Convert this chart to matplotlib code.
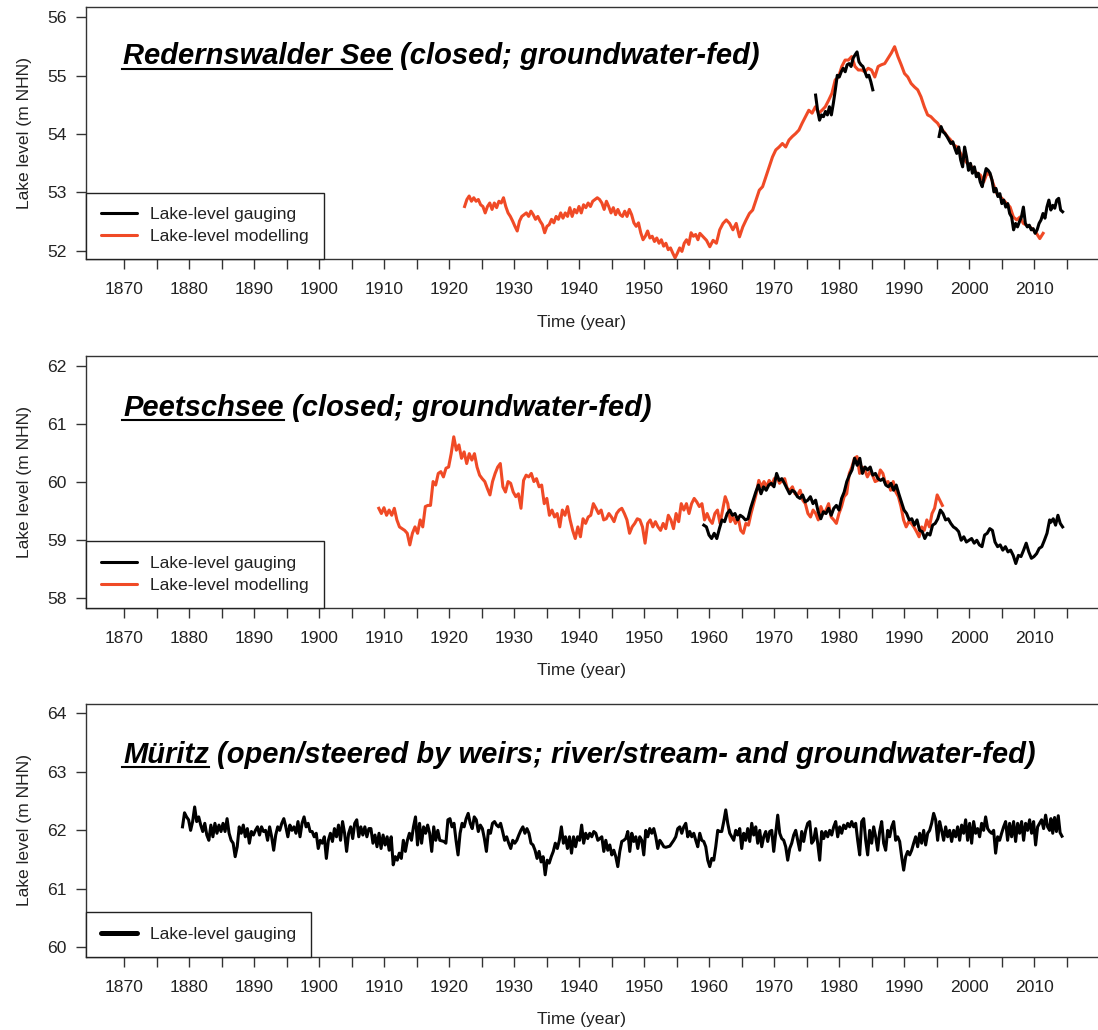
import numpy as np
import matplotlib
matplotlib.use('Agg')
import matplotlib.pyplot as plt
from matplotlib.lines import Line2D

plt.rcParams['font.family'] = ['Liberation Sans', 'DejaVu Sans']

RED = '#f04a26'
INK = '#222222'
SPINE = '#333333'

# ---------------- Redernswalder See ----------------
# modelled lake level, 1922.4 - 1958.3
rds_model_a = [52.76, 52.88, 52.94, 52.85, 52.91, 52.85, 52.88, 52.79, 52.76, 52.65,
               52.76, 52.82, 52.71, 52.82, 52.74, 52.85, 52.82, 52.91, 52.76, 52.65,
               52.59, 52.51, 52.42, 52.34, 52.51, 52.59, 52.62, 52.65, 52.59, 52.68,
               52.62, 52.54, 52.59, 52.51, 52.45, 52.31, 52.42, 52.45, 52.54, 52.48,
               52.59, 52.54, 52.65, 52.56, 52.65, 52.59, 52.74, 52.59, 52.71, 52.65,
               52.76, 52.65, 52.79, 52.74, 52.82, 52.76, 52.85, 52.88, 52.91, 52.88,
               52.82, 52.71, 52.85, 52.76, 52.65, 52.74, 52.62, 52.71, 52.62, 52.59,
               52.68, 52.59, 52.71, 52.62, 52.48, 52.42, 52.48, 52.31, 52.19, 52.25,
               52.34, 52.22, 52.25, 52.16, 52.22, 52.13, 52.19, 52.08, 52.13, 52.02,
               52.05, 51.96, 51.88, 51.96, 52.05, 51.99, 52.13, 52.19, 52.11, 52.31,
               52.25, 52.28, 52.19]
# modelled lake level, 1958.6 - 2011.4
rds_model_b = [52.30, 52.24, 52.18, 52.07, 52.18, 52.13, 52.36, 52.47, 52.53, 52.47,
               52.36, 52.47, 52.24, 52.41, 52.53, 52.64, 52.70, 52.87, 53.04, 53.10,
               53.27, 53.44, 53.61, 53.73, 53.78, 53.84, 53.78, 53.90, 53.96, 54.01,
               54.07, 54.19, 54.30, 54.41, 54.36, 54.47, 54.36, 54.41, 54.47, 54.58,
               54.70, 54.93, 54.98, 55.16, 55.27, 55.27, 55.33, 55.16, 55.10, 55.10,
               55.07, 55.13, 55.10, 54.98, 55.16, 55.19, 55.21, 55.30, 55.39, 55.50,
               55.33, 55.19, 55.04, 54.98, 54.87, 54.81, 54.76, 54.64, 54.47, 54.33,
               54.30, 54.24, 54.19, 54.10, 54.04, 53.96, 53.90, 53.81, 53.78, 53.67,
               53.58, 53.50, 53.47, 53.38, 53.33, 53.30, 53.18, 53.33, 53.30, 53.13,
               52.98, 52.93, 52.87, 52.81, 52.75, 52.58, 52.53, 52.58, 52.47, 52.44,
               52.41, 52.36, 52.30, 52.21, 52.30]
# gauged lake level, 1976.4 - 1985.2
rds_gauge_a = [54.67, 54.41, 54.24, 54.33, 54.30, 54.39, 54.33, 54.47, 54.33, 54.53,
               54.76, 55.01, 54.98, 55.07, 55.13, 55.07, 55.19, 55.21, 55.16, 55.30,
               55.36, 55.41, 55.24, 55.19, 55.16, 55.07, 54.98, 55.01, 54.90, 54.76]
# gauged lake level, 1995.4 - 2014.4
rds_gauge_b = [53.96, 54.13, 54.04, 54.01, 53.96, 53.90, 53.84, 53.87, 53.76, 53.67,
               53.78, 53.56, 53.44, 53.78, 53.61, 53.38, 53.50, 53.33, 53.44, 53.27,
               53.33, 53.18, 53.10, 53.27, 53.41, 53.38, 53.33, 53.21, 53.01, 53.07,
               52.93, 52.98, 52.81, 52.87, 52.75, 52.81, 52.64, 52.58, 52.36, 52.47,
               52.41, 52.50, 52.58, 52.75, 52.47, 52.41, 52.44, 52.36, 52.38, 52.30,
               52.36, 52.47, 52.53, 52.64, 52.56, 52.75, 52.87, 52.70, 52.78, 52.73,
               52.87, 52.90, 52.70, 52.67]

# ---------------- Peetschsee ----------------
# modelled, 1909.2 - 1995.9
pee_model = [59.55, 59.46, 59.56, 59.43, 59.52, 59.43, 59.55, 59.35, 59.23, 59.20,
             59.17, 59.12, 58.92, 59.12, 59.23, 59.12, 59.35, 59.23, 59.58, 59.60,
             59.60, 60.01, 59.95, 60.15, 60.18, 60.09, 60.24, 60.26, 60.49, 60.78,
             60.55, 60.64, 60.41, 60.52, 60.32, 60.49, 60.38, 60.49, 60.26, 60.12,
             60.06, 60.01, 59.89, 59.78, 60.01, 60.15, 60.26, 60.32, 59.92, 59.83,
             60.01, 59.98, 59.83, 59.75, 59.80, 59.55, 60.03, 60.12, 60.09, 60.15,
             60.01, 60.06, 59.92, 59.95, 59.63, 59.72, 59.43, 59.52, 59.40, 59.46,
             59.23, 59.52, 59.43, 59.58, 59.35, 59.17, 59.03, 59.23, 59.06, 59.37,
             59.29, 59.40, 59.43, 59.63, 59.55, 59.46, 59.52, 59.35, 59.37, 59.46,
             59.40, 59.32, 59.46, 59.52, 59.55, 59.46, 59.35, 59.12, 59.23, 59.29,
             59.37, 59.35, 59.23, 58.95, 59.29, 59.35, 59.23, 59.32, 59.23, 59.17,
             59.29, 59.20, 59.43, 59.35, 59.20, 59.46, 59.32, 59.63, 59.52, 59.63,
             59.46, 59.63, 59.72, 59.66, 59.58, 59.63, 59.35, 59.46, 59.35, 59.29,
             59.46, 59.52, 59.29, 59.52, 59.75, 59.63, 59.32, 59.40, 59.29, 59.40,
             59.17, 59.12, 59.29, 59.26, 59.46, 59.63, 59.80, 60.03, 59.92, 60.01,
             59.92, 60.03, 59.95, 60.06, 60.09, 59.98, 60.03, 60.06, 59.89, 59.86,
             59.92, 59.80, 59.78, 59.86, 59.69, 59.63, 59.46, 59.40, 59.52, 59.46,
             59.35, 59.58, 59.46, 59.52, 59.63, 59.40, 59.35, 59.29, 59.46, 59.58,
             59.75, 59.80, 60.15, 60.26, 60.41, 60.44, 60.15, 60.26, 60.21, 60.09,
             60.18, 60.12, 60.01, 60.03, 60.21, 60.15, 59.98, 60.01, 59.86, 60.01,
             59.83, 59.75, 59.58, 59.35, 59.23, 59.32, 59.29, 59.23, 59.15, 59.06,
             59.23, 59.17, 59.35, 59.23, 59.46, 59.55, 59.78, 59.69, 59.60]
# gauged, 1959.2 - 2012.4
pee_gauge = [59.26, 59.23, 59.09, 59.03, 59.12, 59.03, 59.20, 59.35, 59.32, 59.46,
             59.52, 59.43, 59.46, 59.35, 59.43, 59.40, 59.35, 59.37, 59.55, 59.69,
             59.83, 59.95, 59.80, 59.92, 59.86, 59.95, 59.98, 59.92, 60.15, 60.03,
             60.06, 59.98, 59.89, 59.80, 59.86, 59.83, 59.75, 59.72, 59.78, 59.66,
             59.69, 59.75, 59.63, 59.69, 59.49, 59.37, 59.49, 59.46, 59.55, 59.43,
             59.55, 59.60, 59.52, 59.72, 59.83, 60.01, 60.12, 60.21, 60.41, 60.29,
             60.41, 60.15, 60.26, 60.21, 60.26, 60.12, 60.15, 60.06, 60.03, 60.06,
             59.95, 59.92, 59.98, 59.86, 59.95, 59.80, 59.66, 59.52, 59.46, 59.35,
             59.37, 59.26, 59.35, 59.17, 59.15, 59.03, 59.12, 59.09, 59.26, 59.29,
             59.37, 59.52, 59.46, 59.35, 59.37, 59.29, 59.23, 59.20, 59.15, 59.00,
             59.06, 58.97, 59.00, 59.03, 58.95, 59.00, 58.92, 58.89, 59.09, 59.12,
             59.20, 59.17, 58.97, 58.89, 58.92, 58.83, 58.89, 58.80, 58.83, 58.74,
             58.60, 58.74, 58.72, 58.83, 58.95, 58.80, 58.69, 58.72, 58.77, 58.86,
             58.89, 59.00, 59.12, 59.35]
# gauged, 2012.6 - 2014.4
pee_gauge_end = [59.31, 59.37, 59.26, 59.43, 59.29, 59.23]

# ---------------- Müritz ----------------
# gauged, 1879.0 - 1942.9
mur_gauge_a = [62.06, 62.30, 62.23, 62.18, 62.00, 62.15, 62.40, 62.15, 62.23, 62.09, 61.98,
               62.12, 61.92, 61.83, 62.09, 61.89, 62.12, 61.95, 62.09, 61.98, 62.12,
               61.98, 62.20, 61.95, 61.83, 61.78, 61.55, 61.72, 62.06, 61.95, 62.09,
               61.89, 62.03, 61.78, 61.98, 61.92, 62.00, 62.06, 61.92, 62.06, 61.98,
               62.00, 61.83, 62.06, 61.89, 61.66, 61.92, 62.06, 62.00, 62.12, 62.20,
               62.06, 61.89, 62.09, 62.00, 62.06, 61.95, 62.15, 61.89, 62.12, 62.23,
               62.06, 62.12, 61.98, 61.98, 61.89, 61.95, 61.69, 61.83, 61.78, 61.89,
               61.52, 61.83, 61.95, 61.81, 62.03, 61.89, 62.09, 61.83, 62.15, 61.95,
               61.64, 61.95, 62.06, 61.86, 62.12, 62.18, 61.89, 62.06, 61.92, 62.06,
               61.89, 62.03, 62.03, 61.78, 61.92, 61.72, 61.95, 61.69, 61.92, 61.75,
               61.89, 61.66, 61.89, 61.41, 61.55, 61.49, 61.61, 61.52, 61.83, 61.64,
               61.83, 61.95, 61.83, 62.06, 62.23, 61.75, 62.12, 61.78, 62.06, 61.95,
               62.09, 61.95, 61.64, 62.06, 61.83, 62.00, 61.83, 61.82, 61.81, 61.78,
               62.18, 62.20, 62.06, 62.12, 61.83, 61.58, 61.95, 62.12, 62.06, 62.20,
               62.29, 62.12, 62.03, 62.23, 62.18, 61.98, 62.09, 62.03, 61.86, 61.64,
               62.00, 61.95, 62.12, 62.15, 62.09, 62.06, 62.12, 61.98, 61.83, 61.89,
               61.78, 61.69, 61.83, 61.78, 61.83, 61.92, 62.00, 62.06, 61.95, 62.03,
               61.95, 61.78, 61.75, 61.66, 61.52, 61.64, 61.46, 61.55, 61.24, 61.49,
               61.44, 61.55, 61.64, 61.78, 61.69, 61.83, 62.06, 61.78, 61.89, 61.69,
               61.89, 61.61, 61.89, 61.72, 61.89, 61.83, 62.09, 61.78, 61.95, 61.86,
               61.95, 61.89, 61.98, 61.95, 61.83]
# gauged, 1943.2 - 2012.4
mur_gauge_b = [61.86, 61.89, 61.64, 61.83, 61.66, 61.75, 61.58, 61.66, 61.55, 61.38,
               61.64, 61.81, 61.83, 61.86, 61.98, 61.64, 61.95, 61.81, 61.89, 61.69,
               61.89, 61.83, 61.58, 62.00, 61.89, 62.03, 61.95, 62.03, 61.89, 61.69,
               61.83, 61.78, 61.72, 61.71, 61.72, 61.73, 61.78, 61.83, 61.89, 62.03,
               62.06, 61.95, 62.06, 62.12, 61.89, 61.98, 61.89, 61.95, 61.83, 61.72,
               61.95, 61.83, 61.81, 61.72, 61.49, 61.38, 61.52, 61.49, 61.72, 62.00,
               61.98, 61.98, 62.15, 62.35, 62.12, 61.95, 61.89, 61.83, 62.00, 61.92,
               62.03, 61.69, 61.95, 61.83, 62.03, 61.81, 62.12, 61.92, 62.06, 61.78,
               62.00, 61.72, 61.89, 61.98, 61.81, 61.98, 62.00, 61.64, 61.95, 62.26,
               61.95, 61.86, 61.83, 61.72, 61.49, 61.69, 61.78, 61.92, 62.00, 61.83,
               61.66, 61.98, 61.81, 62.00, 62.12, 62.15, 61.78, 61.83, 62.03, 61.78,
               61.49, 61.98, 61.86, 61.98, 61.89, 62.00, 61.92, 62.06, 62.15, 61.89,
               62.06, 61.95, 62.09, 62.03, 62.12, 62.06, 62.15, 62.06, 62.12, 61.83,
               61.58, 62.15, 62.20, 61.83, 61.58, 62.00, 61.78, 62.06, 61.89, 61.66,
               61.98, 62.15, 61.78, 61.66, 62.00, 61.89, 62.06, 62.15, 61.83, 61.89,
               61.81, 61.55, 61.32, 61.55, 61.64, 61.58, 61.66, 61.78, 61.89, 61.72,
               61.95, 61.78, 62.00, 61.75, 61.95, 62.00, 62.12, 62.29, 62.18, 61.83,
               62.15, 62.00, 61.83, 62.06, 61.89, 62.00, 61.81, 62.00, 61.89, 62.06,
               61.83, 62.09, 61.95, 62.18, 61.83, 62.12, 61.78, 62.15, 61.95, 62.03,
               61.89, 62.12, 62.00, 62.23, 62.03, 61.98, 61.95, 62.00, 61.61, 61.89,
               61.83, 61.95, 62.06, 62.15, 61.83, 62.12, 61.89, 62.15, 61.81, 62.12,
               61.95, 62.15, 61.83, 62.12, 62.00, 62.18, 61.95, 62.15, 61.75, 62.06,
               62.12, 62.18, 62.03, 62.26, 62.06, 62.00]
# gauged, 2012.6 - 2014.3
mur_gauge_end = [62.20, 61.95, 62.22, 61.98, 62.25, 61.96, 61.90]


def span(start, end, vals):
    return np.linspace(start, end, len(vals))


W, H = 1098, 1030
fig = plt.figure(figsize=(W / 100, H / 100), dpi=100)

def fx(x):
    return x / W

def fy(y):
    return 1 - y / H

XLIM = (1870 + (86 - 124) / 6.5, 1870 + (W - 124) / 6.5)
xt = list(range(1870, 2016, 5))
xtl = [str(t) if t % 10 == 0 else '' for t in xt]


def make_axes(top, bottom, ylim, yticks):
    ax = fig.add_axes([fx(86), fy(bottom), 1 - fx(86), (bottom - top) / H])
    ax.set_xlim(*XLIM)
    ax.set_ylim(*ylim)
    ax.set_xticks(xt)
    ax.set_xticklabels(xtl)
    ax.set_yticks(yticks)
    ax.spines['right'].set_visible(False)
    for s in ['left', 'top', 'bottom']:
        ax.spines[s].set_linewidth(1.0)
        ax.spines[s].set_color(SPINE)
    ax.tick_params(axis='both', direction='out', length=7.2, width=1.0,
                   color=SPINE, labelsize=12.6, labelcolor=INK)
    ax.tick_params(axis='x', pad=9.5)
    ax.tick_params(axis='y', pad=6.5)
    # axis titles
    fig.text(fx(582), fy(bottom + 63), 'Time (year)', ha='center', va='center',
             fontsize=12.6, color=INK)
    fig.text(fx(25), fy((top + bottom) / 2), 'Lake level (m NHN)', rotation=90,
             ha='center', va='center', fontsize=12.6, color=INK)
    return ax


def lake_title(base_y, name, rest):
    kw = dict(fontsize=21, fontweight='bold', fontstyle='italic', va='baseline', color='black')
    t = fig.text(fx(123), fy(base_y), name, **kw)
    fig.canvas.draw()
    bb = t.get_window_extent()
    fig.text(fx(bb.x1 + 8), fy(base_y), rest, **kw)
    fig.add_artist(Line2D([fx(bb.x0 - 1), fx(bb.x1)], [fy(base_y + 4.5)] * 2,
                          transform=fig.transFigure, color='black', lw=1.5))


def lake_legend(ax, entries, lw):
    handles = [Line2D([], [], color=c, lw=lw, solid_capstyle='round') for c, _ in entries]
    leg = ax.legend(handles, [lab for _, lab in entries], loc='lower left',
                    bbox_to_anchor=(0, 0), borderaxespad=0, frameon=True, fancybox=False,
                    edgecolor='#222222', framealpha=1, fontsize=12.6, borderpad=0.83,
                    labelspacing=0.39, handlelength=2.1, handletextpad=0.75)
    leg.get_frame().set_linewidth(1.0)
    for txt in leg.get_texts():
        txt.set_color(INK)


LW = 2.2

# Redernswalder See
ax1 = make_axes(7, 259, (51.86, 56.18), [52, 53, 54, 55, 56])
ax1.plot(np.concatenate([span(1922.4, 1958.3, rds_model_a), span(1958.6, 2011.4, rds_model_b)]),
         rds_model_a + rds_model_b, color=RED, lw=LW)
ax1.plot(span(1976.4, 1985.2, rds_gauge_a), rds_gauge_a, color='black', lw=LW)
ax1.plot(span(1995.4, 2014.4, rds_gauge_b), rds_gauge_b, color='black', lw=LW)
lake_legend(ax1, [('black', 'Lake-level gauging'), (RED, 'Lake-level modelling')], LW)
lake_title(64, 'Redernswalder See', '(closed; groundwater-fed)')

# Peetschsee
ax2 = make_axes(356, 607.7, (57.84, 62.17), [58, 59, 60, 61, 62])
ax2.plot(span(1909.2, 1995.9, pee_model), pee_model, color=RED, lw=LW)
ax2.plot(np.concatenate([span(1959.2, 2012.4, pee_gauge), span(2012.6, 2014.4, pee_gauge_end)]),
         pee_gauge + pee_gauge_end, color='black', lw=LW)
lake_legend(ax2, [('black', 'Lake-level gauging'), (RED, 'Lake-level modelling')], LW)
lake_title(415.7, 'Peetschsee', '(closed; groundwater-fed)')

# Müritz
ax3 = make_axes(704, 956.7, (59.84, 64.16), [60, 61, 62, 63, 64])
ax3.plot(np.concatenate([span(1879.0, 1942.9, mur_gauge_a), span(1943.2, 2012.4, mur_gauge_b),
                         span(2012.6, 2014.3, mur_gauge_end)]),
         mur_gauge_a + mur_gauge_b + mur_gauge_end, color='black', lw=LW)
lake_legend(ax3, [('black', 'Lake-level gauging')], 3.6)
lake_title(762.7, 'Müritz', '(open/steered by weirs; river/stream- and groundwater-fed)')

fig.savefig('out.png', dpi=100)
